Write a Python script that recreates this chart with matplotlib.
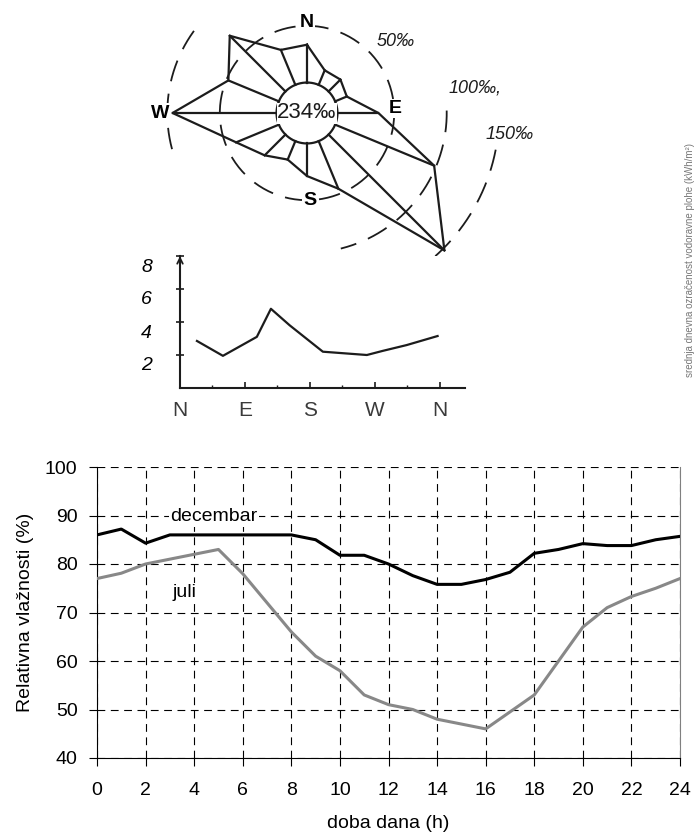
import numpy as np
import matplotlib.pyplot as plt
import matplotlib.transforms as mtransforms

plt.rcParams['font.family'] = ['Liberation Sans', 'DejaVu Sans']

# wind rose: frequency per direction (per mille), clockwise from N
rose_dirs = ['N', 'NNE', 'NE', 'ENE', 'E', 'ESE', 'SE', 'SSE',
             'S', 'SSW', 'SW', 'WSW', 'W', 'WNW', 'NW', 'NNW']
rose_freq = [32, 11, 12, 8, 35, 98, 152, 45, 27, 15, 24, 40, 95, 48, 71, 32]
calm = 234
rose_rings = [50, 100, 150]

# mean wind speed against direction (small chart)
speed_dir = [23.5, 59.5, 106.5, 126, 152, 198, 259, 281, 314, 357]
speed_val = [2.85, 1.95, 3.1, 4.8, 3.8, 2.2, 2.0, 2.25, 2.6, 3.15]
speed_ticks = ['N', 'E', 'S', 'W', 'N']

# relative humidity through the day
hours = list(range(25))
dec = [86, 87.2, 84.3, 86, 86, 86, 86, 86, 86, 85, 81.8, 81.8, 80, 77.6,
       75.8, 75.8, 76.8, 78.3, 82.2, 83, 84.2, 83.8, 83.8, 85, 85.7]
jul = [77, 78.1, 80, 81, 82, 83, 78, 72, 66, 61, 58, 53, 51, 50,
       48, 47, 46, 49.5, 53, 60, 67, 71, 73.3, 75, 77]

ink = '#1c1c1c'
W, H = 696, 840
fig = plt.figure(figsize=(W / 100, H / 100), dpi=100)

# ---- wind rose (polar, r offset so the calm circle sits inside) ----
axr = fig.add_axes([99 / W, 1 - 321 / H, 416 / W, 416 / H], projection='polar')
axr.set_theta_zero_location('N')
axr.set_theta_direction(-1)
axr.set_ylim(-33, 165)
axr.set_axis_off()

theta = np.deg2rad(np.arange(len(rose_dirs)) * 22.5)
r_in = -4
axr.plot(np.append(theta, theta[0]), rose_freq + rose_freq[:1], color=ink, lw=1.6)
for t, f in zip(theta, rose_freq):
    axr.plot([t, t], [r_in, f], color=ink, lw=1.6)
circ = np.linspace(0, 2 * np.pi, 400)
axr.plot(circ, np.full_like(circ, r_in), color=ink, lw=1.6)

dash = (0, (12, 7))
arcs = {50: [(0, 360)], 100: [(89, 166), (255, 306)], 150: [(101, 148)]}
for ring in rose_rings:
    for a0, a1 in arcs[ring]:
        t = np.deg2rad(np.linspace(a0, a1, 200))
        axr.plot(t, np.full_like(t, ring), color=ink, lw=1.3, linestyle=dash)

box = dict(facecolor='white', edgecolor='none', pad=1)
axr.text(0, 53, 'N', ha='center', va='center', fontsize=14, fontweight='bold', bbox=box)
axr.text(np.deg2rad(87), 51, 'E', ha='center', va='center', fontsize=14, fontweight='bold', bbox=box)
axr.text(np.deg2rad(178), 50, 'S', ha='center', va='center', fontsize=14, fontweight='bold', bbox=box)
axr.text(np.deg2rad(270), 107, 'W', ha='center', va='center', fontsize=14, fontweight='bold', bbox=box)
axr.text(0, -33, f'{calm}‰', ha='center', va='center', fontsize=16, color=ink,
         bbox=dict(facecolor='white', edgecolor='none', pad=0))
axr.text(np.deg2rad(51), 75, f'{rose_rings[0]}‰', ha='center', va='center',
         fontsize=13, style='italic', color=ink)
axr.text(np.deg2rad(81.5), 129, f'{rose_rings[1]}‰,', ha='center', va='center',
         fontsize=13, style='italic', color=ink)
axr.text(np.deg2rad(96), 161, f'{rose_rings[2]}‰', ha='center', va='center',
         fontsize=13, style='italic', color=ink)

# ---- small speed chart ----
axs = fig.add_axes([180 / W, 1 - 388 / H, 285 / W, 132 / H])
axs.plot(speed_dir, speed_val, color=ink, lw=1.6)
axs.set_xlim(0, 395)
axs.set_ylim(0, 8)
axs.set_xticks([0, 90, 180, 270, 360], speed_ticks)
axs.set_xticks([45, 135, 225, 315], minor=True)
axs.set_yticks([2, 4, 6, 8], ['2', '4', '6', '8'])
for s in ['top', 'right']:
    axs.spines[s].set_visible(False)
for s in ['left', 'bottom']:
    axs.spines[s].set_linewidth(1.5)
    axs.spines[s].set_color(ink)
axs.tick_params(axis='x', direction='in', length=4, width=1.2, pad=9,
                labelsize=15, labelcolor='#3a3a3a', color=ink)
axs.tick_params(axis='x', which='minor', direction='in', length=2, width=1, color=ink)
axs.tick_params(axis='y', direction='inout', length=6, width=1.2, pad=17,
                labelsize=14, color=ink)
for lab in axs.get_yticklabels():
    lab.set_fontstyle('italic')
    lab.set_transform(lab.get_transform() +
                      mtransforms.ScaledTranslation(0, -0.09, fig.dpi_scale_trans))
axs.annotate('', xy=(0, 1.02), xytext=(0, 0.9), xycoords='axes fraction',
             arrowprops=dict(arrowstyle='->', lw=1.3, color=ink))

# ---- humidity chart ----
ax = fig.add_axes([97 / W, 82 / H, 583 / W, 291 / H])
ax.plot(hours, dec, color='black', lw=2.2, zorder=3)
ax.plot(hours, jul, color='#888888', lw=2.2, zorder=3)
ax.set_xlim(0, 24)
ax.set_ylim(40, 100)
ax.set_xticks(range(0, 25, 2))
ax.set_yticks(range(40, 101, 10))
ax.grid(True, color='black', lw=0.8, linestyle=(0, (7, 5)))
ax.spines['top'].set_visible(False)
ax.spines['right'].set_color('#808080')
ax.tick_params(axis='x', direction='out', length=6, labelsize=14, pad=11)
ax.tick_params(axis='y', direction='out', length=6, labelsize=14, pad=8)
ax.set_xlabel('doba dana (h)', fontsize=14, labelpad=12)
ax.set_ylabel('Relativna vlažnosti (%)', fontsize=14, labelpad=8)
wbox = dict(facecolor='white', edgecolor='none', pad=1)
ax.text(4.8, 88.8, 'decembar', ha='center', va='baseline', fontsize=14, bbox=wbox)
ax.text(3.6, 73.2, 'juli', ha='center', va='baseline', fontsize=14, bbox=wbox)

# scanned caption at the page edge
fig.text(695 / W, 0.69, 'srednja dnevna ozračenost vodoravne plohe (kWh/m²)',
         rotation=90, ha='right', va='center', fontsize=7, color='#777777')

fig.savefig('out.png', dpi=100)
